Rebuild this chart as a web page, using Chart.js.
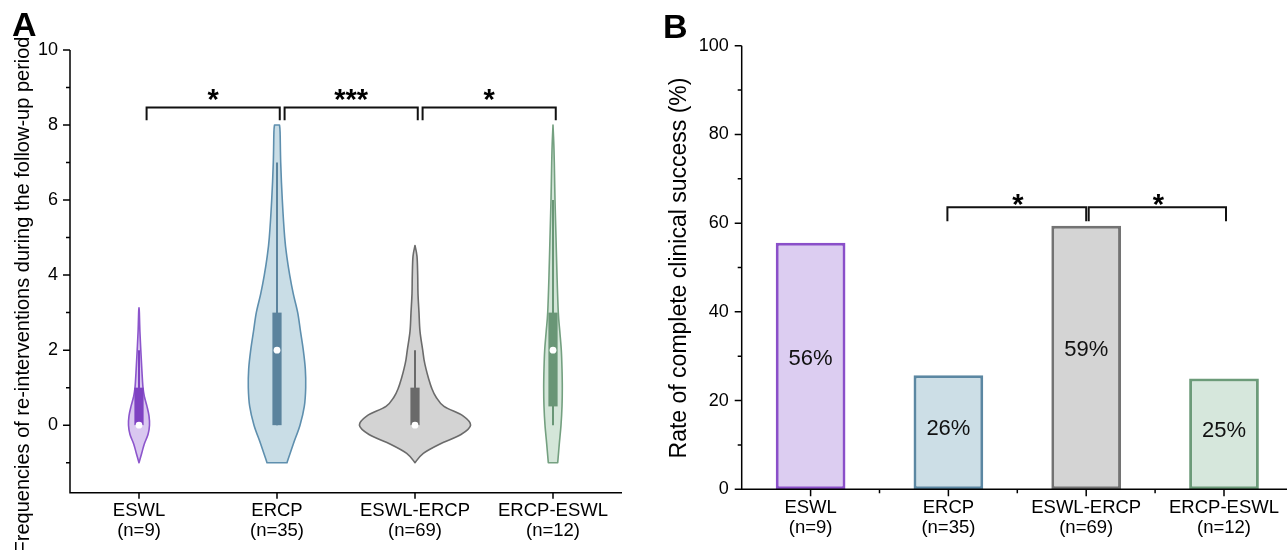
<!DOCTYPE html>
<html><head><meta charset="utf-8">
<script src="https://cdn.jsdelivr.net/npm/chart.js@4.4.0/dist/chart.umd.min.js"></script>
<style>
html,body{margin:0;padding:0;background:#fff;overflow:hidden;width:1287px;height:550px;position:relative;}
canvas{position:absolute;top:0;}
.panel{position:absolute;font:bold 34px "Liberation Sans",Arial,sans-serif;line-height:1;color:#000;}
</style></head><body>
<canvas id="cA" width="640" height="550" style="left:0"></canvas>
<canvas id="cB" width="660" height="550" style="left:640px"></canvas>
<div class="panel" style="left:12px;top:7px">A</div>
<div class="panel" style="left:663px;top:9px">B</div>
<script>
// ---------- DATA ----------
const categories = ['ESWL', 'ERCP', 'ESWL-ERCP', 'ERCP-ESWL'];
const sampleSizes = [9, 35, 69, 12];

// Panel A: violin density profiles (value levels and relative half-widths)
const violinY_ESWL = [-1, -0.75, -0.5, -0.25, 0, 0.25, 0.5, 0.75, 1, 1.5, 2, 2.5, 3, 3.13];
const violinW_ESWL = [0, 2.7, 5.3, 9.0, 10.5, 10, 8, 5.5, 4, 2.8, 1.8, 0.9, 0.35, 0];
const violinY_ERCP = [-1, -0.5, 0, 0.5, 1, 1.5, 2, 2.5, 3, 3.5, 4, 4.5, 5, 6, 7, 7.8, 8];
const violinW_ERCP = [10, 16.3, 23, 27.3, 28.7, 28.3, 26.3, 23.5, 20.7, 16.3, 12.7, 9.8, 7.7, 5.3, 3.7, 3.1, 2.5];
const violinY_ESWLERCP = [-1, -0.75, -0.5, -0.25, 0, 0.25, 0.5, 0.75, 1, 1.25, 1.5, 1.75, 2, 2.5, 3, 3.5, 4, 4.5, 4.79];
const violinW_ESWLERCP = [0, 8.3, 25, 46, 55.6, 48, 29, 21, 16.5, 13.5, 11, 9, 7.7, 5, 4, 3, 2.7, 2, 0];
const violinY_ERCPESWL = [-1, -0.5, 0, 0.5, 1, 1.5, 2, 2.5, 3, 4, 5, 6, 7, 7.5, 8];
const violinW_ERCPESWL = [4.7, 6.3, 8, 9, 9.3, 9, 8.3, 6.8, 5.3, 4, 3, 2, 1.3, 0.8, 0];

const boxQ1 = [0, 0, 0, 0.5];
const boxQ3 = [1, 3, 1, 3];
const whiskerLow = [0, 0, 0, 0];
const whiskerHigh = [2, 7, 2, 6];
const medians = [0, 2, 0, 2];
const sigPairsA = [[0, 1], [1, 2], [2, 3]];
const sigMarksA = ['*', '***', '*'];
const yTicksA = [0, 2, 4, 6, 8, 10];
const yMinorA = [-1, 1, 3, 5, 7, 9];
const titleA = 'Frequencies of re-interventions during the follow-up period';

// Panel B
const successRate = [55.6, 25.7, 59.4, 25.0];
const successLabels = ['56%', '26%', '59%', '25%'];
const sigPairsB = [[1, 2], [2, 3]];
const sigMarksB = ['*', '*'];
const yTicksB = [0, 20, 40, 60, 80, 100];
const yMinorB = [10, 30, 50, 70, 90];
const titleB = 'Rate of complete clinical success (%)';

// ---------- STYLE ----------
const FONT = '"Liberation Sans", Arial, sans-serif';
const violinFill = ['#d9c7f0', '#c9dde6', '#d3d3d3', '#d4e6d9'];
const violinStroke = ['#8c55cc', '#5e8fae', '#6b6b6b', '#74a080'];
const boxColor = ['#7e42c2', '#5b839d', '#6a6a6a', '#699676'];
const barFill = ['#dccdf1', '#ccdee6', '#d4d4d4', '#d6e7dc'];
const barStroke = ['#8a4fc9', '#5b87a2', '#737373', '#6c9b79'];
const violins = [
  [violinY_ESWL, violinW_ESWL], [violinY_ERCP, violinW_ERCP],
  [violinY_ESWLERCP, violinW_ESWLERCP], [violinY_ERCPESWL, violinW_ERCPESWL]
];
const DENSITY_TO_CAT = 1 / 138;
Chart.defaults.color = '#000';

function smoothTo(ctx, pts) {
  for (let i = 0; i < pts.length - 1; i++) {
    const p0 = pts[Math.max(i - 1, 0)], p1 = pts[i], p2 = pts[i + 1], p3 = pts[Math.min(i + 2, pts.length - 1)];
    const t = 1 / 6;
    ctx.bezierCurveTo(p1.x + (p2.x - p0.x) * t, p1.y + (p2.y - p0.y) * t,
                      p2.x - (p3.x - p1.x) * t, p2.y - (p3.y - p1.y) * t, p2.x, p2.y);
  }
}

const violinPlugin = {
  id: 'violins',
  beforeDatasetsDraw(chart) {
    const {ctx, scales: {x, y}} = chart;
    ctx.save();
    violins.forEach(([ys, ws], i) => {
      const right = ys.map((v, k) => ({x: x.getPixelForValue(i + ws[k] * DENSITY_TO_CAT), y: y.getPixelForValue(v)}));
      const left = ys.map((v, k) => ({x: x.getPixelForValue(i - ws[k] * DENSITY_TO_CAT), y: y.getPixelForValue(v)})).reverse();
      ctx.beginPath();
      ctx.moveTo(left[left.length - 1].x, left[left.length - 1].y);
      ctx.lineTo(right[0].x, right[0].y);
      smoothTo(ctx, right);
      ctx.lineTo(left[0].x, left[0].y);
      smoothTo(ctx, left);
      ctx.closePath();
      ctx.fillStyle = violinFill[i];
      ctx.fill();
      ctx.lineWidth = 1.6;
      ctx.lineJoin = 'round';
      ctx.strokeStyle = violinStroke[i];
      ctx.stroke();
      const cx = x.getPixelForValue(i);
      ctx.beginPath();
      ctx.moveTo(cx, y.getPixelForValue(whiskerLow[i]));
      ctx.lineTo(cx, y.getPixelForValue(whiskerHigh[i]));
      ctx.lineWidth = 2;
      ctx.strokeStyle = boxColor[i];
      ctx.stroke();
      const top = y.getPixelForValue(boxQ3[i]), bot = y.getPixelForValue(boxQ1[i]);
      ctx.fillStyle = boxColor[i];
      ctx.fillRect(cx - 4.6, top, 9.2, bot - top);
    });
    ctx.restore();
  }
};

function drawStars(ctx, txt, cx, cy) {
  ctx.font = 'bold 29px ' + FONT;
  ctx.textAlign = 'center';
  ctx.textBaseline = 'alphabetic';
  const m = ctx.measureText(txt);
  ctx.fillText(txt, cx, cy + (m.actualBoundingBoxAscent - m.actualBoundingBoxDescent) / 2);
}

function drawVTitle(ctx, txt, cx, cy, size) {
  ctx.save();
  ctx.translate(cx, cy);
  ctx.rotate(-Math.PI / 2);
  ctx.font = size + 'px ' + FONT;
  ctx.fillStyle = '#000';
  ctx.textAlign = 'center';
  ctx.textBaseline = 'middle';
  ctx.fillText(txt, 0, 0);
  ctx.restore();
}

const axesA = {
  id: 'axesA',
  afterDraw(chart) {
    const {ctx, chartArea: a, scales: {x, y}} = chart;
    ctx.save();
    ctx.strokeStyle = '#000';
    ctx.lineWidth = 1.5;
    ctx.beginPath();
    ctx.moveTo(a.left, y.getPixelForValue(10));
    ctx.lineTo(a.left, a.bottom);
    ctx.lineTo(a.right, a.bottom);
    yTicksA.forEach(v => { const p = y.getPixelForValue(v); ctx.moveTo(a.left, p); ctx.lineTo(a.left - 7, p); });
    yMinorA.forEach(v => { const p = y.getPixelForValue(v); ctx.moveTo(a.left, p); ctx.lineTo(a.left - 4, p); });
    categories.forEach((c, i) => { const p = x.getPixelForValue(i); ctx.moveTo(p, a.bottom); ctx.lineTo(p, a.bottom + 6); });
    ctx.stroke();
    ctx.strokeStyle = '#111';
    ctx.lineWidth = 2;
    ctx.fillStyle = '#000';
    const yl = y.getPixelForValue(8.47), yd = y.getPixelForValue(8.13);
    sigPairsA.forEach(([f, t], k) => {
      const x1 = x.getPixelForValue(f + 0.055), x2 = x.getPixelForValue(t + 0.02);
      ctx.beginPath();
      ctx.moveTo(x1, yd); ctx.lineTo(x1, yl); ctx.lineTo(x2, yl); ctx.lineTo(x2, yd);
      ctx.stroke();
      drawStars(ctx, sigMarksA[k], (x1 + x2) / 2, yl - 12.5);
    });
    ctx.restore();
    drawVTitle(ctx, titleA, 23, 295, 20);
  }
};

new Chart(document.getElementById('cA'), {
  type: 'scatter',
  data: {datasets: [{
    data: medians.map((m, i) => ({x: i, y: m})),
    pointRadius: 3.4, pointBackgroundColor: '#ffffff', pointBorderWidth: 0, pointBorderColor: '#ffffff'
  }]},
  options: {
    responsive: false, animation: false, devicePixelRatio: 1, events: [],
    layout: {padding: {top: 50, right: 18, left: 0, bottom: 0}},
    plugins: {legend: {display: false}, tooltip: {enabled: false}},
    scales: {
      x: {
        type: 'linear', min: -0.5, max: 3.5,
        grid: {display: false, drawTicks: false}, border: {display: false},
        afterBuildTicks: s => { s.ticks = categories.map((_, i) => ({value: i})); },
        afterFit: s => { s.height = 57.3; },
        ticks: {autoSkip: false, maxRotation: 0, padding: 8, color: '#000',
          font: {family: FONT, size: 18.5, lineHeight: 1.1},
          callback: v => [categories[Math.round(v)], '(n=' + sampleSizes[Math.round(v)] + ')']}
      },
      y: {
        type: 'linear', min: -1.8, max: 10,
        grid: {display: false, drawTicks: false}, border: {display: false},
        afterBuildTicks: s => { s.ticks = yTicksA.map(v => ({value: v})); },
        afterFit: s => { s.width = 70; },
        ticks: {padding: 12, color: '#000', font: {family: FONT, size: 18}}
      }
    }
  },
  plugins: [violinPlugin, axesA]
});

const axesB = {
  id: 'axesB',
  afterDatasetsDraw(chart) {
    const {ctx, chartArea: a, scales: {x, y}} = chart;
    ctx.save();
    ctx.fillStyle = '#111';
    ctx.font = '22px ' + FONT;
    ctx.textAlign = 'center';
    ctx.textBaseline = 'middle';
    successRate.forEach((v, i) => {
      ctx.fillText(successLabels[i], x.getPixelForValue(i), y.getPixelForValue(v * 0.53));
    });
    ctx.strokeStyle = '#000';
    ctx.lineWidth = 1.5;
    ctx.beginPath();
    ctx.moveTo(a.left, y.getPixelForValue(100));
    ctx.lineTo(a.left, a.bottom);
    ctx.lineTo(a.right, a.bottom);
    yTicksB.forEach(v => { const p = y.getPixelForValue(v); ctx.moveTo(a.left, p); ctx.lineTo(a.left - 7, p); });
    yMinorB.forEach(v => { const p = y.getPixelForValue(v); ctx.moveTo(a.left, p); ctx.lineTo(a.left - 4, p); });
    categories.forEach((c, i) => {
      const p = x.getPixelForValue(i); ctx.moveTo(p, a.bottom); ctx.lineTo(p, a.bottom + 7);
      if (i < categories.length - 1) {
        const q = (x.getPixelForValue(i) + x.getPixelForValue(i + 1)) / 2;
        ctx.moveTo(q, a.bottom); ctx.lineTo(q, a.bottom + 4);
      }
    });
    ctx.stroke();
    ctx.strokeStyle = '#111';
    ctx.lineWidth = 2;
    ctx.fillStyle = '#000';
    const yl = y.getPixelForValue(63.6), yd = y.getPixelForValue(60.4);
    sigPairsB.forEach(([f, t], k) => {
      const x1 = x.getPixelForValue(f) + (k === 0 ? -1 : 2.5), x2 = x.getPixelForValue(t) + (k === 0 ? 0 : 2);
      ctx.beginPath();
      ctx.moveTo(x1, yd); ctx.lineTo(x1, yl); ctx.lineTo(x2, yl); ctx.lineTo(x2, yd);
      ctx.stroke();
      drawStars(ctx, sigMarksB[k], (x1 + x2) / 2 + 1, yl - 7.5);
    });
    ctx.restore();
    drawVTitle(ctx, titleB, 40, 268, 23);
  }
};

new Chart(document.getElementById('cB'), {
  type: 'bar',
  data: {
    labels: categories.map((c, i) => [c, '(n=' + sampleSizes[i] + ')']),
    datasets: [{
      data: successRate, backgroundColor: barFill, borderColor: barStroke,
      borderWidth: 3, borderSkipped: false, barPercentage: 0.506, categoryPercentage: 1
    }]
  },
  options: {
    responsive: false, animation: false, devicePixelRatio: 1, events: [],
    layout: {padding: {top: 45.7, right: 7.1, left: 0, bottom: 0}},
    plugins: {legend: {display: false}, tooltip: {enabled: false}},
    scales: {
      x: {
        grid: {display: false, drawTicks: false}, border: {display: false},
        afterFit: s => { s.height = 60.7; },
        ticks: {autoSkip: false, maxRotation: 0, padding: 8, color: '#000',
          font: {family: FONT, size: 18.5, lineHeight: 1.1}}
      },
      y: {
        min: 0, max: 100,
        grid: {display: false, drawTicks: false}, border: {display: false},
        afterBuildTicks: s => { s.ticks = yTicksB.map(v => ({value: v})); },
        afterFit: s => { s.width = 101.7; },
        ticks: {padding: 13, color: '#000', font: {family: FONT, size: 18}}
      }
    }
  },
  plugins: [axesB]
});
</script>
</body></html>
